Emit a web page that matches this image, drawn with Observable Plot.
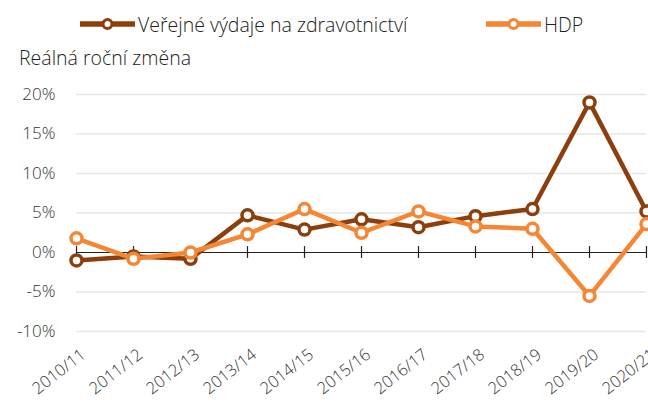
<!DOCTYPE html>
<html><head><meta charset="utf-8">
<script src="https://cdn.jsdelivr.net/npm/d3@7"></script>
<script src="https://cdn.jsdelivr.net/npm/@observablehq/plot@0.6"></script>
<style>
body{margin:0;background:#fff;font-family:"Open Sans",sans-serif;color:#222;}
#wrap{position:relative;width:648px;height:405px;overflow:hidden;}
.hdr{position:relative;height:80px;}
.leg{position:absolute;top:11px;height:26px;display:flex;align-items:center;font-size:19.5px;font-weight:300;white-space:nowrap;}
.leg svg{margin-right:3px;}
.sub{position:absolute;left:19px;top:44px;font-size:19.5px;font-weight:300;}
</style></head>
<body>
<div id="wrap">
  <div class="hdr">
    <div class="leg" id="leg1" style="left:80px"></div>
    <div class="leg" id="leg2" style="left:486px"></div>
    <div class="sub">Reálná roční změna</div>
  </div>
  <div id="chart"></div>
</div>
<script>
const periods = ["2010/11","2011/12","2012/13","2013/14","2014/15","2015/16","2016/17","2017/18","2018/19","2019/20","2020/21"];
const spending = [-1.0,-0.5,-0.8,4.7,2.9,4.2,3.2,4.6,5.5,19.0,5.2];
const gdp = [1.8,-0.8,0.0,2.3,5.5,2.5,5.2,3.3,3.0,-5.5,3.6];
const yTicks = [-10,-5,0,5,10,15,20];
const seriesNames = ["Veřejné výdaje na zdravotnictví","HDP"];
const colors = ["#8c3f0c","#f58634"];

function swatch(color){
  return `<svg width="55" height="16"><line x1="0" x2="55" y1="8" y2="8" stroke="${color}" stroke-width="5.5"/><circle cx="27.5" cy="8" r="4.5" fill="#fff" stroke="${color}" stroke-width="3"/></svg>`;
}
document.getElementById("leg1").innerHTML = swatch(colors[0]) + seriesNames[0];
document.getElementById("leg2").innerHTML = swatch(colors[1]) + seriesNames[1];

const s1 = periods.map((p,i)=>({period:p, value:spending[i]}));
const s2 = periods.map((p,i)=>({period:p, value:gdp[i]}));

const chart = Plot.plot({
  width: 648,
  height: 325,
  marginLeft: 76,
  marginRight: 2,
  marginTop: 14,
  marginBottom: 74,
  style: {fontFamily:"Open Sans, sans-serif", fontSize:"17px", color:"#333", overflow:"visible", background:"#fff"},
  x: {type:"point", domain: periods, padding: 0, label: null},
  y: {domain:[-10,20], label: null},
  marks: [
    Plot.ruleY(yTicks.filter(d=>d!==0), {stroke:"#e6e6e6", strokeWidth:1.5}),
    Plot.ruleY([0], {stroke:"#222", strokeWidth:1.2}),
    Plot.ruleX(periods, {x:d=>d, y1:-0.75, y2:0.75, stroke:"#222", strokeWidth:1.2}),
    Plot.axisY({ticks:yTicks, tickFormat:d=>`${d}%`, tickSize:0, tickPadding:21, fontWeight:300, fill:"#333", label:null}),
    Plot.axisX({tickSize:0, tickRotate:-38, tickPadding:6, dy:15, dx:7, fontSize:16.5, fontWeight:300, fill:"#333", label:null}),
    Plot.line(s1, {x:"period", y:"value", stroke:colors[0], strokeWidth:4.5}),
    Plot.dot(s1, {x:"period", y:"value", r:5.5, fill:"#fff", stroke:colors[0], strokeWidth:3.5}),
    Plot.line(s2, {x:"period", y:"value", stroke:colors[1], strokeWidth:4.5}),
    Plot.dot(s2, {x:"period", y:"value", r:5.5, fill:"#fff", stroke:colors[1], strokeWidth:3.5})
  ]
});
document.getElementById("chart").appendChild(chart);
</script>
</body></html>
